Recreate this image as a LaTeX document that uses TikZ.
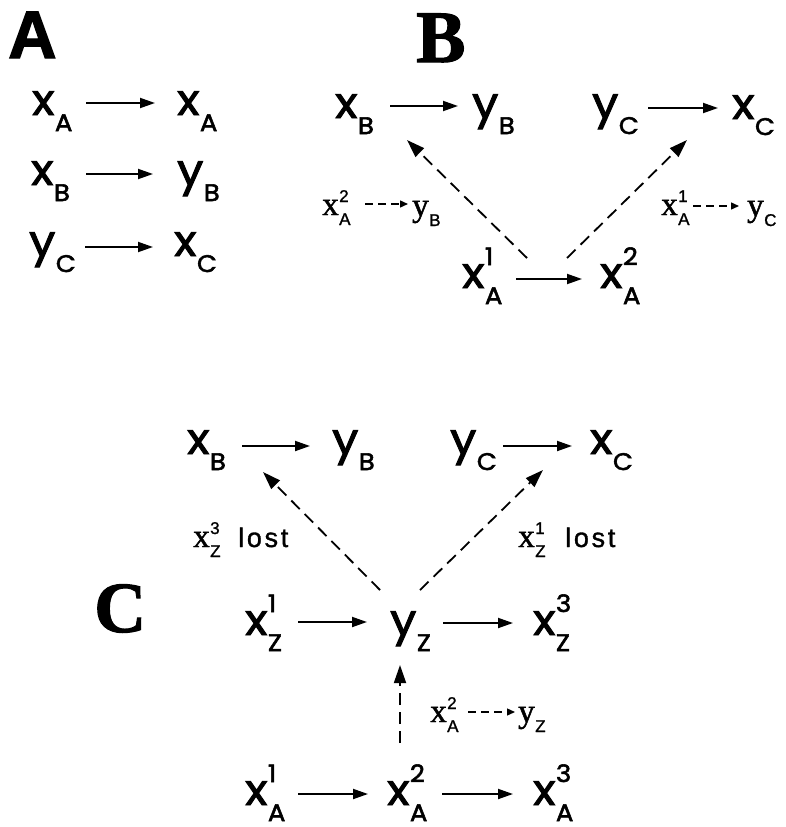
\documentclass[tikz,border=0pt]{standalone}
\usepackage{fontspec}
\usetikzlibrary{arrows.meta,calc}
\newfontfamily\mainf{Poppins}[FakeBold=2.2,FakeStretch=1.08]
\newfontfamily\serf{Liberation Serif}[FakeBold=1.4]
\newfontfamily\lsans{Liberation Sans}[FakeBold=1.2]
\newfontfamily\lostf{Liberation Sans}[LetterSpace=10,FakeBold=1.2]
\newfontfamily\bserif{Liberation Serif Bold}[FakeBold=1.5]
\newfontfamily\bsans{Liberation Sans Bold}[FakeBold=2]

% main variable: letter, subscript, superscript
\newcommand\BigV[3]{\hbox{\mainf\fontsize{43}{43}\selectfont #1\kern0.5pt%
\setbox0=\hbox{\fontsize{24}{24}\selectfont #2}%
\setbox2=\hbox{\fontsize{24}{24}\selectfont #3}%
\dimen0=\wd0 \ifdim\wd2>\dimen0 \dimen0=\wd2 \fi%
\rlap{\raise-16pt\box0}\rlap{\raise23pt\box2}\kern\dimen0}}
% small label variable
\newcommand\SmV[3]{\hbox{\serf\fontsize{33}{33}\selectfont #1\kern0.5pt%
\setbox0=\hbox{\lsans\fontsize{17}{17}\selectfont #2}%
\setbox2=\hbox{\lsans\fontsize{17}{17}\selectfont #3}%
\dimen0=\wd0 \ifdim\wd2>\dimen0 \dimen0=\wd2 \fi%
\rlap{\raise-10pt\box0}\rlap{\raise13pt\box2}\kern\dimen0}}

\tikzset{
  v/.style={inner sep=0pt, anchor=base west},
  arr/.style={line width=1.9pt, -{Triangle[length=15pt,width=10pt]}},
  darr/.style={line width=1.8pt, dash pattern=on 12pt off 7pt, -{Triangle[length=18pt,width=12pt]}},
  sdarr/.style={line width=1.4pt, dash pattern=on 8pt off 5pt, -{Triangle[length=8pt,width=7pt]}},
}

\begin{document}
\begin{tikzpicture}[x=1pt,y=-1pt]
\path[use as bounding box] (0,0) rectangle (785,827);

% ---------- Panel A ----------
\node[v,font=\bsans\fontsize{67}{67}\selectfont] (lA) at (8,58) {A};
\node[v] (a1) at (32,115) {\BigV{x}{A}{}};
\node[v] (a2) at (177,115) {\BigV{x}{A}{}};
\node[v] (a3) at (31,185) {\BigV{x}{B}{}};
\node[v] (a4) at (177,185) {\BigV{y}{B}{}};
\node[v] (a5) at (29,256) {\BigV{y}{C}{}};
\node[v] (a6) at (174,256) {\BigV{x}{C}{}};
\draw[arr] ($(a1.base west)+(54,-12)$) -- ($(a2.base west)+(-22,-12)$);
\draw[arr] ($(a3.base west)+(55,-11)$) -- ($(a4.base west)+(-24,-11)$);
\draw[arr] ($(a5.base west)+(56,-9)$) -- ($(a6.base west)+(-21,-9)$);

% ---------- Panel B ----------
\node[v,font=\bserif\fontsize{74}{74}\selectfont] (lB) at (416,62) {B};
\node[v] (b1) at (335,118) {\BigV{x}{B}{}};
\node[v] (b2) at (472,118) {\BigV{y}{B}{}};
\node[v] (b3) at (592,118) {\BigV{y}{C}{}};
\node[v] (b4) at (732,119) {\BigV{x}{C}{}};
\node[v] (b5) at (462,288) {\BigV{x}{A}{1}};
\node[v] (b6) at (600,288) {\BigV{x}{A}{2}};
\draw[arr] ($(b1.base west)+(55,-12)$) -- ($(b2.base west)+(-14,-12)$);
\draw[arr] ($(b3.base west)+(56,-10)$) -- ($(b4.base west)+(-14,-11)$);
\draw[arr] ($(b5.base west)+(54,-9)$) -- ($(b6.base west)+(-18,-9)$);
\draw[darr] ($(b5.base west)+(65,-30)$) -- ($(b1.base west)+(72,22)$);
\draw[darr] ($(b5.base west)+(105,-30)$) -- ($(b4.base west)+(-45,21)$);
\node[v] (b7) at (322,215) {\SmV{x}{A}{2}};
\node[v] (b8) at (412,216) {\SmV{y}{B}{}};
\draw[sdarr] ($(b7.base west)+(43,-11)$) -- ($(b8.base west)+(-4,-12)$);
\node[v] (b9) at (661,215) {\SmV{x}{A}{1}};
\node[v] (b10) at (747,216) {\SmV{y}{C}{}};
\draw[sdarr] ($(b9.base west)+(32,-9)$) -- ($(b10.base west)+(-8,-10)$);

% ---------- Panel C ----------
\node[v,font=\bserif\fontsize{72}{72}\selectfont] (lC) at (94,632) {C};
\node[v] (c1) at (187,454) {\BigV{x}{B}{}};
\node[v] (c2) at (332,454) {\BigV{y}{B}{}};
\node[v] (c3) at (450,454) {\BigV{y}{C}{}};
\node[v] (c4) at (590,454) {\BigV{x}{C}{}};
\draw[arr] ($(c1.base west)+(55,-8)$) -- ($(c2.base west)+(-22,-8)$);
\draw[arr] ($(c3.base west)+(53,-8)$) -- ($(c4.base west)+(-18,-8)$);

\node[v] (c5) at (245,635) {\BigV{x}{Z}{1}};
\node[v] (c6) at (390,635) {\BigV{y}{Z}{}};
\node[v] (c7) at (533,635) {\BigV{x}{Z}{3}};
\draw[arr] ($(c5.base west)+(53,-13)$) -- ($(c6.base west)+(-23,-13)$);
\draw[arr] ($(c6.base west)+(53,-12)$) -- ($(c7.base west)+(-20,-12)$);

\draw[darr] ($(c6.base west)+(-10,-45)$) -- ($(c1.base west)+(76,18)$);
\draw[darr] ($(c6.base west)+(30,-45)$) -- ($(c4.base west)+(-47,16)$);

\node[v] (c13) at (193,547) {\makebox[45pt][l]{\SmV{x}{Z}{3}}{\lostf\fontsize{27}{27}\selectfont lost}};
\node[v] (c14) at (518,547) {\makebox[47pt][l]{\SmV{x}{Z}{1}}{\lostf\fontsize{27}{27}\selectfont lost}};

\node[v] (c8) at (245,805) {\BigV{x}{A}{1}};
\node[v] (c9) at (387,805) {\BigV{x}{A}{2}};
\node[v] (c10) at (533,805) {\BigV{x}{A}{3}};
\draw[arr] ($(c8.base west)+(53,-11)$) -- ($(c9.base west)+(-19,-11)$);
\draw[arr] ($(c9.base west)+(55,-11)$) -- ($(c10.base west)+(-20,-11)$);

\draw[darr] ($(c9.base west)+(13,-62)$) -- ($(c6.base west)+(10,30)$);
\node[v] (c11) at (430,722) {\SmV{x}{A}{2}};
\node[v] (c12) at (518,722) {\SmV{y}{Z}{}};
\draw[sdarr] ($(c11.base west)+(38,-10)$) -- ($(c12.base west)+(-3,-10)$);
\end{tikzpicture}
\end{document}
